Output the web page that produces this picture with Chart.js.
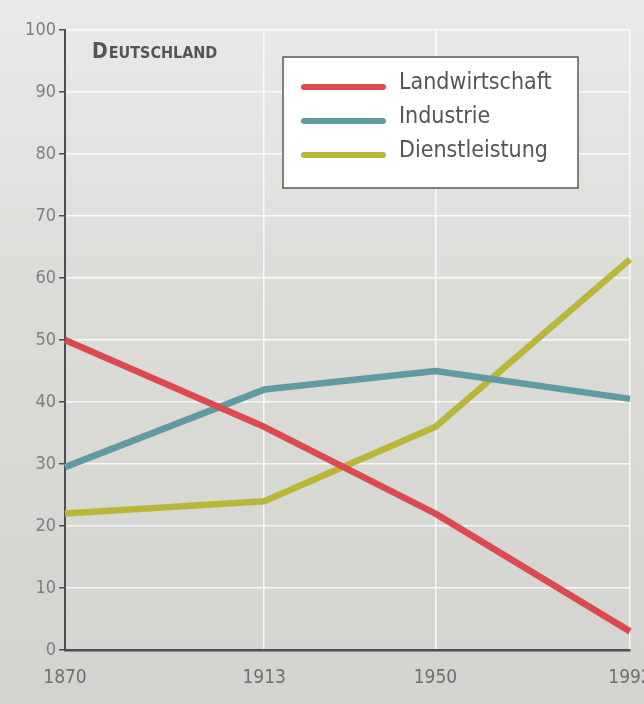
<!DOCTYPE html>
<html lang="de">
<head>
<meta charset="utf-8">
<title>Deutschland – Beschäftigte nach Sektoren</title>
<script src="https://cdn.jsdelivr.net/npm/chart.js@4.4.1/dist/chart.umd.min.js"></script>
<style>
  html, body {
    margin: 0;
    padding: 0;
    width: 644px;
    height: 704px;
    overflow: hidden;
    background: linear-gradient(180deg, #eaeae8 0%, #dcdcd9 40%, #d3d3cf 100%);
  }
  #wrap {
    position: relative;
    width: 680px;   /* wider than the window so "1992" gets cut like in the print */
    height: 704px;
  }
</style>
</head>
<body>
<div id="wrap"><canvas id="sectorChart"></canvas></div>
<script>
// values (share of workers, %)
const chartTitle = 'DEUTSCHLAND';
const years = [1870, 1913, 1950, 1992];
const landwirtschaft = [50, 36, 22, 3];
const industrie = [29.5, 42, 45, 40.5];
const dienstleistung = [22, 24, 36, 63];

const seriesNames = ['Landwirtschaft', 'Industrie', 'Dienstleistung'];
const seriesColors = ['#dc4a4f', '#5f9ba1', '#b9b737'];

const labelFont = '"Liberation Sans Narrow", "DejaVu Sans Condensed", sans-serif';
const axisColor = '#4e4d57';

// title in small caps: big first letter, smaller rest
const smallCapsTitle = {
    id: 'smallCapsTitle',
    afterDraw(chart) {
        const { ctx, chartArea } = chart;
        const x = chartArea.left + 27;
        const y = chartArea.top + 28;
        ctx.save();
        ctx.fillStyle = '#555457';
        ctx.textBaseline = 'alphabetic';
        ctx.font = 'bold 21px "DejaVu Sans Condensed", sans-serif';
        ctx.fillText(chartTitle[0], x, y);
        const w = ctx.measureText(chartTitle[0]).width;
        ctx.font = 'bold 16px "DejaVu Sans Condensed", sans-serif';
        ctx.fillText(chartTitle.slice(1), x + w + 1, y);
        ctx.restore();
    }
};

// boxed legend sitting inside the plot
const boxLegend = {
    id: 'boxLegend',
    afterDraw(chart) {
        const { ctx, chartArea } = chart;
        const left = chartArea.left + 218;
        const top = chartArea.top + 27;
        const width = 295;
        const height = 131;
        ctx.save();
        ctx.fillStyle = '#ffffff';
        ctx.fillRect(left, top, width, height);
        ctx.strokeStyle = '#5a5a5e';
        ctx.lineWidth = 1.5;
        ctx.strokeRect(left, top, width, height);

        ctx.font = '23px ' + labelFont;
        ctx.textBaseline = 'middle';
        ctx.lineCap = 'round';
        chart.data.datasets.forEach((ds, i) => {
            const rowY = top + 30 + i * 34;
            ctx.strokeStyle = ds.borderColor;
            ctx.lineWidth = 6;
            ctx.beginPath();
            ctx.moveTo(left + 21, rowY);
            ctx.lineTo(left + 100, rowY);
            ctx.stroke();
            ctx.fillStyle = '#555457';
            ctx.fillText(ds.label, left + 116, rowY - 4);
        });
        ctx.restore();
    }
};

const seriesValues = [landwirtschaft, industrie, dienstleistung];

const datasets = seriesNames.map((name, i) => ({
    label: name,
    data: years.map((yr, j) => ({ x: yr, y: seriesValues[i][j] })),
    borderColor: seriesColors[i],
    backgroundColor: seriesColors[i],
    borderWidth: 6.5,
    borderCapStyle: 'butt',
    borderJoinStyle: 'round',
    pointRadius: 0,
    tension: 0,
    clip: 8
}));

const ctx = document.getElementById('sectorChart').getContext('2d');

new Chart(ctx, {
    type: 'line',
    data: { datasets: datasets },
    options: {
        responsive: true,
        maintainAspectRatio: false,
        animation: false,
        layout: {
            padding: { left: 0, top: 30, right: 50, bottom: 0 }
        },
        plugins: {
            legend: { display: false },
            tooltip: { enabled: false }
        },
        scales: {
            x: {
                type: 'linear',
                min: years[0],
                max: years[years.length - 1],
                afterBuildTicks: (scale) => {
                    scale.ticks = years.map(v => ({ value: v }));
                },
                afterFit: (scale) => { scale.height = 54; },
                grid: {
                    color: 'rgba(255,255,255,0.85)',
                    lineWidth: 1.5,
                    drawTicks: false
                },
                border: { display: true, color: axisColor, width: 2.5 },
                ticks: {
                    padding: 17,
                    color: '#6f6f73',
                    font: { family: labelFont, size: 19 },
                    maxRotation: 0,
                    callback: (value) => String(value)
                }
            },
            y: {
                min: 0,
                max: 100,
                afterFit: (scale) => { scale.width = 65; },
                grid: {
                    color: 'rgba(255,255,255,0.85)',
                    lineWidth: 1.5,
                    tickColor: axisColor,
                    tickLength: 6,
                    tickWidth: 1.5
                },
                border: { display: true, color: axisColor, width: 2 },
                ticks: {
                    stepSize: 10,
                    padding: 3,
                    color: '#7e7e82',
                    font: { family: labelFont, size: 18 }
                }
            }
        }
    },
    plugins: [smallCapsTitle, boxLegend]
});
</script>
</body>
</html>
